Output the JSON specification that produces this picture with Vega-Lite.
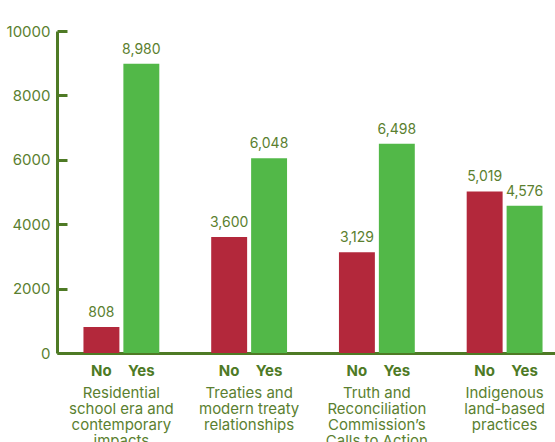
{
  "$schema": "https://vega.github.io/schema/vega-lite/v6.json",
  "width": 512,
  "height": 322,
  "autosize": {"type": "none"},
  "padding": {"left": 57, "top": 31, "right": 0, "bottom": 89},
  "background": "white",
  "config": {"view": {"stroke": null}, "font": "Inter"},
  "data": {
    "values": [
      {"category": "Residential|school era and|contemporary|impacts", "answer": "No", "value": 808},
      {"category": "Residential|school era and|contemporary|impacts", "answer": "Yes", "value": 8980},
      {"category": "Treaties and|modern treaty|relationships", "answer": "No", "value": 3600},
      {"category": "Treaties and|modern treaty|relationships", "answer": "Yes", "value": 6048},
      {"category": "Truth and|Reconciliation|Commission’s|Calls to Action", "answer": "No", "value": 3129},
      {"category": "Truth and|Reconciliation|Commission’s|Calls to Action", "answer": "Yes", "value": 6498},
      {"category": "Indigenous|land-based|practices", "answer": "No", "value": 5019},
      {"category": "Indigenous|land-based|practices", "answer": "Yes", "value": 4576}
    ]
  },
  "encoding": {
    "x": {
      "field": "category",
      "type": "nominal",
      "sort": null,
      "scale": {"paddingInner": 0, "paddingOuter": 0.004},
      "axis": {
        "title": null,
        "labelAngle": 0,
        "labelExpr": "split(datum.label, '|')",
        "labelFontSize": 15,
        "labelLineHeight": 16,
        "labelPadding": 32,
        "labelBaseline": "top",
        "labelColor": "#5b7f30",
        "labelLimit": 0,
        "labelOverlap": false,
        "ticks": false,
        "domainColor": "#4e7a25",
        "domainWidth": 3
      }
    },
    "xOffset": {
      "field": "answer",
      "type": "nominal",
      "sort": ["No", "Yes"],
      "scale": {"paddingInner": 0.1, "paddingOuter": 0.65}
    },
    "y": {
      "field": "value",
      "type": "quantitative",
      "scale": {"domain": [0, 10000], "nice": false},
      "axis": {
        "title": null,
        "values": [0, 2000, 4000, 6000, 8000, 10000],
        "format": "d",
        "grid": false,
        "labelFontSize": 15,
        "labelColor": "#5b7f30",
        "labelPadding": 17,
        "tickSize": -10,
        "tickWidth": 3,
        "tickColor": "#4e7a25",
        "domainColor": "#4e7a25",
        "domainWidth": 3
      }
    }
  },
  "layer": [
    {
      "mark": {"type": "bar"},
      "encoding": {
        "color": {
          "field": "answer",
          "type": "nominal",
          "scale": {"domain": ["No", "Yes"], "range": ["#B3283B", "#52B848"]},
          "legend": null
        }
      }
    },
    {
      "mark": {"type": "text", "baseline": "middle", "dy": -14, "fontSize": 14, "color": "#5b7f30"},
      "encoding": {"text": {"field": "value", "type": "quantitative", "format": ","}}
    },
    {
      "mark": {"type": "text", "baseline": "middle", "dy": 18, "fontSize": 15, "fontWeight": "bold", "color": "#4e7a25"},
      "encoding": {
        "y": {"datum": 0},
        "text": {"field": "answer", "type": "nominal"}
      }
    }
  ]
}
